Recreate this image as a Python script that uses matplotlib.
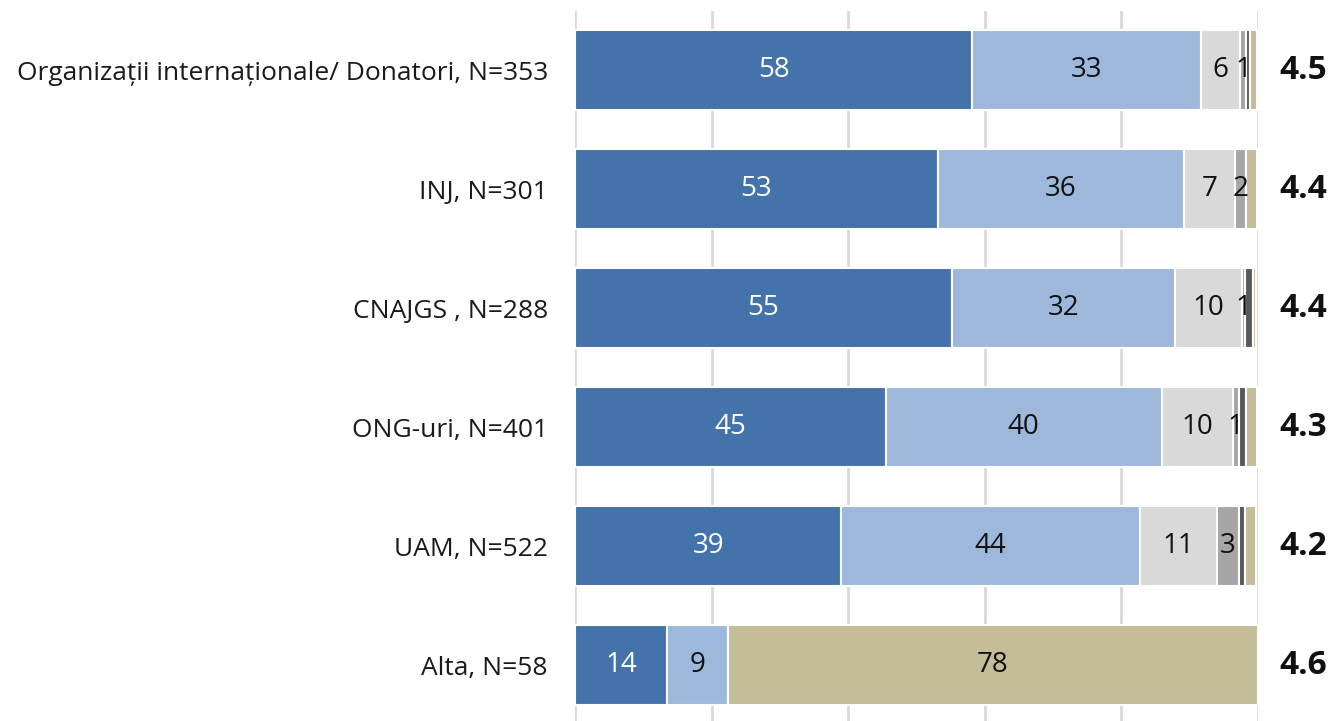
import matplotlib
matplotlib.use("Agg")
import matplotlib.pyplot as plt

categories = ["Organizații internaționale/ Donatori, N=353", "INJ, N=301", "CNAJGS , N=288",
              "ONG-uri, N=401", "UAM, N=522", "Alta, N=58"]
s1 = [58.2, 53.1, 55.2, 45.5, 39.0, 13.5]
s2 = [33.4, 36.1, 32.6, 40.4, 43.7, 8.9]
s3 = [5.8, 7.4, 9.8, 10.4, 11.3, 0.0]
s4 = [0.9, 1.6, 0.5, 0.9, 3.2, 0.0]
s5 = [0.6, 0.0, 1.2, 1.0, 0.9, 0.0]
s6 = [0.9, 1.6, 0.4, 1.6, 1.6, 77.6]
l1 = ["58", "53", "55", "45", "39", "14"]
l2 = ["33", "36", "32", "40", "44", "9"]
l3 = ["6", "7", "10", "10", "11", ""]
l4 = ["1", "2", "1", "1", "3", ""]
l5 = ["", "", "", "", "", ""]
l6 = ["", "", "", "", "", "78"]
scores = ["4.5", "4.4", "4.4", "4.3", "4.2", "4.6"]

series = [s1, s2, s3, s4, s5, s6]
labels = [l1, l2, l3, l4, l5, l6]
colors = ["#4472AA", "#9DB8DA", "#D9D9D9", "#A6A6A6", "#595959", "#C4BD97"]
txtcol = ["white", "#111111", "#111111", "#111111", "#111111", "#111111"]

plt.rcParams['font.family'] = ['Open Sans', 'DejaVu Sans']
fig = plt.figure(figsize=(13.34, 7.21), dpi=100)
ax = fig.add_axes([0.431, -0.005, 0.512, 0.99])

y = list(range(len(categories)))
left = [0.0] * len(categories)
for vals, labs, c, tc in zip(series, labels, colors, txtcol):
    ax.barh(y, vals, left=left, height=0.67, color=c, edgecolor="white",
            linewidth=1.5, zorder=3)
    for i, (v, lab) in enumerate(zip(vals, labs)):
        if lab:
            ax.text(left[i] + v / 2, i, lab, ha="center", va="center",
                    color=tc, fontsize=20, zorder=4)
    left = [a + b for a, b in zip(left, vals)]

for i, s in enumerate(scores):
    ax.text(106.6, i, s, ha="center", va="center", fontsize=24,
            fontweight="bold", color="#111111", clip_on=False)

ax.set_xlim(0, 100)
ax.set_ylim(len(categories) - 0.5, -0.5)
ax.set_xticks([0, 20, 40, 60, 80, 100])
ax.xaxis.grid(True, color="#D9D9D9", linewidth=2, zorder=0)
ax.set_axisbelow(True)
ax.tick_params(axis="x", length=0, labelbottom=False)
ax.tick_params(axis="y", length=0, pad=19.5, labelsize=19, labelcolor="#1a1a1a")
ax.set_yticks(y)
ax.set_yticklabels(categories)
for sp in ax.spines.values():
    sp.set_visible(False)

fig.savefig("out.png", dpi=100)
